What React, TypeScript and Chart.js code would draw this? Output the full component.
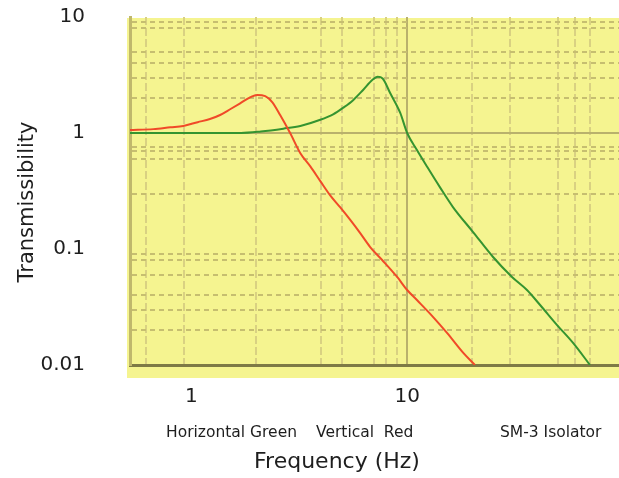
import { useEffect, useRef } from 'react';
import { Chart, registerables } from 'chart.js';

Chart.register(...registerables);

// Horizontal (red) curve: frequency (Hz) and transmissibility
const RED_FREQ = [0.52, 0.667, 0.8, 0.918, 1.07, 1.22, 1.36, 1.52, 1.69, 1.88, 2.02, 2.2, 2.37, 2.58, 2.87, 3.2, 3.56, 3.96, 4.4, 4.9, 5.45, 6.06, 6.74, 7.66, 8.99, 10, 11.1, 13.2, 15.3, 18.2, 20.6];
const RED_T = [1.06, 1.08, 1.12, 1.15, 1.24, 1.32, 1.43, 1.61, 1.81, 2.04, 2.13, 2.08, 1.85, 1.43, 1.0, 0.67, 0.515, 0.385, 0.29, 0.228, 0.178, 0.137, 0.104, 0.0804, 0.0574, 0.0443, 0.0363, 0.0259, 0.0189, 0.0127, 0.01];

// Vertical (green) curve
const GREEN_FREQ = [0.52, 1.0, 1.7, 2.1, 2.67, 3.2, 3.96, 4.54, 5.05, 5.62, 6.25, 6.89, 7.3, 7.7, 8.34, 9.29, 10, 11.1, 12.4, 14.2, 16.3, 20.2, 25, 30.6, 35.9, 41.3, 49.5, 58.7, 70.3];
const GREEN_T = [1.0, 1.0, 1.0, 1.03, 1.09, 1.15, 1.3, 1.45, 1.65, 1.92, 2.35, 2.86, 3.05, 2.95, 2.21, 1.49, 1.0, 0.714, 0.509, 0.34, 0.23, 0.14, 0.0853, 0.0574, 0.0443, 0.0329, 0.0221, 0.0155, 0.01];

// Axes
const X_MIN = 0.52;
const X_MAX = 100;
const X_LABEL_TICKS = [1, 10, 100];
const X_LABELS = ['1', '10', ''];
const X_MINOR = [0.62, 0.93, 2, 4, 5, 7, 8, 9, 20, 30, 50, 60, 70];

const Y_MIN = 0.01;
const Y_MAX = 10;
const Y_LABEL_TICKS = [0.01, 0.1, 1, 10];
const Y_LABELS = ['0.01', '0.1', '1', '10'];
const Y_MINOR = [0.02, 0.03, 0.04, 0.06, 0.08, 0.09, 0.3, 0.6, 0.7, 0.76, 2, 3, 4, 5, 8, 9];

const Y_TITLE = 'Transmissibility';
const X_TITLE = 'Frequency (Hz)';
const NOTES = ['Horizontal Green', 'Vertical  Red', 'SM-3 Isolator'];

const BG = '#f5f490';
const FONT = 'DejaVu Sans';
const TEXT = '#1e1e1e';

const bgPlugin = {
  id: 'bgPlugin',
  beforeDraw(chart: any) {
    const { ctx, chartArea: a } = chart;
    ctx.save();
    ctx.fillStyle = BG;
    ctx.fillRect(a.left - 3, a.top + 1, a.right - a.left + 10, a.bottom - a.top + 12);
    ctx.restore();
  },
};

const textPlugin = {
  id: 'textPlugin',
  afterDraw(chart: any) {
    const { ctx } = chart;
    ctx.save();
    ctx.fillStyle = TEXT;
    // y title
    ctx.save();
    ctx.translate(33, 202);
    ctx.rotate(-Math.PI / 2);
    ctx.font = `21px "${FONT}"`;
    ctx.textAlign = 'center';
    ctx.textBaseline = 'alphabetic';
    ctx.fillText(Y_TITLE, 0, 0);
    ctx.restore();
    // x title
    ctx.font = `22px "${FONT}"`;
    ctx.textAlign = 'center';
    ctx.textBaseline = 'alphabetic';
    ctx.fillText(X_TITLE, 337, 468);
    // notes
    ctx.font = `15.5px "${FONT}"`;
    ctx.textAlign = 'left';
    const xs = [166, 316, 500];
    NOTES.forEach((t, i) => ctx.fillText(t, xs[i], 437));
    ctx.restore();
  },
};

const tickValue = (c: any) => (c && c.tick ? c.tick.value : undefined);

export default function App() {
  const ref = useRef<HTMLCanvasElement>(null);

  useEffect(() => {
    const red = RED_FREQ.map((f, i) => ({ x: f, y: RED_T[i] }));
    const green = GREEN_FREQ.map((f, i) => ({ x: f, y: GREEN_T[i] }));
    const chart = new Chart(ref.current as HTMLCanvasElement, {
      type: 'line',
      data: {
        datasets: [
          {
            label: 'Horizontal',
            data: red,
            borderColor: '#f04a28',
            borderWidth: 2,
            pointRadius: 0,
            cubicInterpolationMode: 'monotone',
            fill: false,
          },
          {
            label: 'Vertical',
            data: green,
            borderColor: '#359430',
            borderWidth: 2,
            pointRadius: 0,
            cubicInterpolationMode: 'monotone',
            fill: false,
          },
        ],
      },
      options: {
        responsive: false,
        animation: false,
        layout: { padding: { top: 17, right: 0, bottom: 0, left: 0 } },
        plugins: { legend: { display: false }, tooltip: { enabled: false }, title: { display: false } },
        scales: {
          x: {
            type: 'logarithmic',
            min: X_MIN,
            max: X_MAX,
            afterBuildTicks: (axis: any) => {
              axis.ticks = [...X_MINOR, ...X_LABEL_TICKS].sort((a, b) => a - b).map((v) => ({ value: v }));
            },
            afterFit: (axis: any) => {
              axis.height = 113;
              axis.paddingLeft = 0;
              axis.paddingRight = 0;
            },
            ticks: {
              autoSkip: false,
              maxRotation: 0,
              padding: 20,
              color: TEXT,
              font: { family: FONT, size: 20 },
              callback: (v: any) => {
                const i = X_LABEL_TICKS.indexOf(Number(v));
                return i >= 0 ? X_LABELS[i] : '';
              },
            },
            grid: {
              drawTicks: false,
              color: (c: any) => {
                const v = tickValue(c);
                if (v === 10) return '#b9b16c';
                if (v === 1 || v === 100) return 'rgba(0,0,0,0)';
                return '#d9d182';
              },
              lineWidth: 2,
            },
            border: {
              display: true,
              color: '#7e7a45',
              width: 3,
              dash: (c: any) => {
                const v = tickValue(c);
                return v === 10 || v === undefined ? [] : [8, 3];
              },
            },
          },
          y: {
            type: 'logarithmic',
            min: Y_MIN,
            max: Y_MAX,
            afterBuildTicks: (axis: any) => {
              axis.ticks = [...Y_MINOR, ...Y_LABEL_TICKS].sort((a, b) => a - b).map((v) => ({ value: v }));
            },
            afterFit: (axis: any) => {
              axis.width = 130;
              axis.paddingTop = 0;
              axis.paddingBottom = 0;
            },
            ticks: {
              autoSkip: false,
              padding: 45,
              color: TEXT,
              font: { family: FONT, size: 20 },
              callback: (v: any) => {
                const i = Y_LABEL_TICKS.indexOf(Number(v));
                return i >= 0 ? Y_LABELS[i] : '';
              },
            },
            grid: {
              drawTicks: false,
              color: (c: any) => {
                const v = tickValue(c);
                if (v === 1) return '#b9b16c';
                if (v === 0.01 || v === 0.1 || v === 10) return 'rgba(0,0,0,0)';
                return '#c6be70';
              },
              lineWidth: 2,
            },
            border: {
              display: true,
              color: '#c0b86c',
              width: 3,
              dash: (c: any) => {
                const v = tickValue(c);
                return v === 1 || v === undefined ? [] : [5, 4];
              },
            },
          },
        },
      },
      plugins: [bgPlugin, textPlugin],
    } as any);
    return () => chart.destroy();
  }, []);

  return (
    <div style={{ position: 'fixed', left: 0, top: 0, width: 619, height: 478, overflow: 'hidden', background: '#ffffff' }}>
      <canvas ref={ref} width={623} height={478} style={{ display: 'block' }} />
    </div>
  );
}
